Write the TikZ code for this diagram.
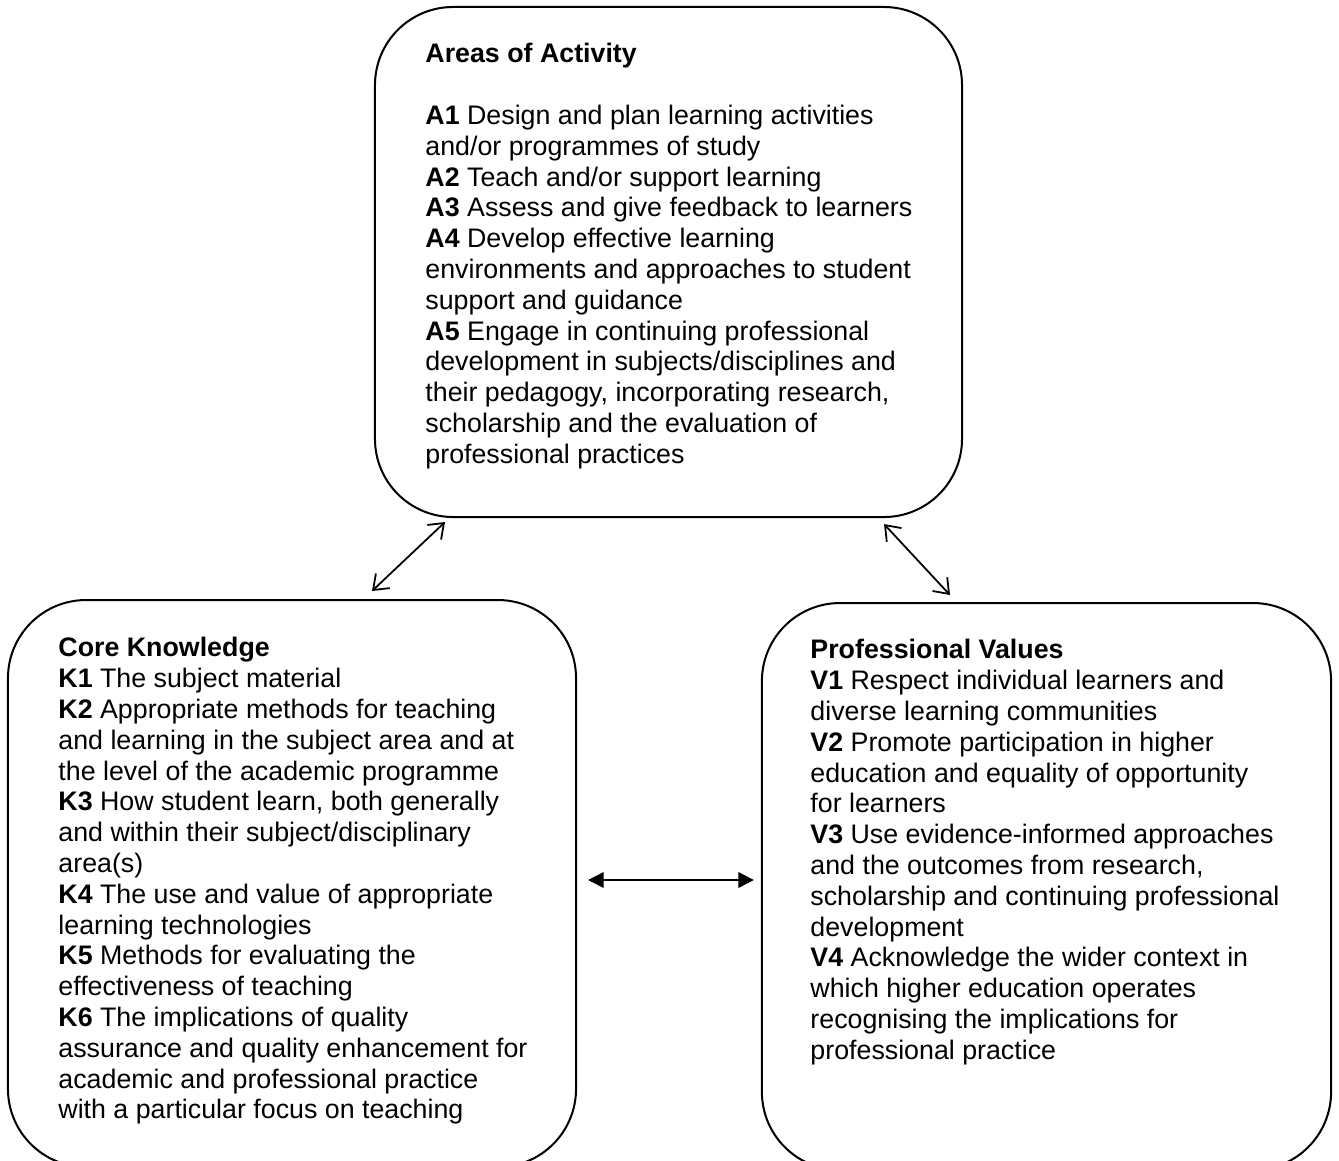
\documentclass[tikz,border=0pt]{standalone}
\usepackage{fontspec}
\setmainfont{Liberation Sans}
\usepackage{tikz}
\usetikzlibrary{arrows.meta, positioning, calc}

\begin{document}
\begin{tikzpicture}[
  x=0.448pt, y=-0.448pt,
  pbox/.style={draw, line width=0.9pt, rounded corners=35pt, inner sep=0pt},
  ptext/.style={anchor=north west, align=left, inner sep=0pt, font=\fontsize{12}{13.8}\selectfont},
  barb/.style={{Straight Barb[length=6pt,width=9pt]}-{Straight Barb[length=6pt,width=9pt]}, line width=0.8pt},
  tri/.style={{Triangle[length=7pt,width=7pt]}-{Triangle[length=7pt,width=7pt]}, line width=0.8pt}
]
  \useasboundingbox (0,0) rectangle (1339,1160);
  \node[pbox, minimum width=263pt, minimum height=228.5pt] (areas) at (668.5,262) {};
  \node[pbox, minimum width=254.5pt, minimum height=254pt] (knowledge) at (292,883.5) {};
  \node[pbox, minimum width=255pt, minimum height=254pt] (values) at (1046.5,886.5) {};
  \node[ptext] (areastxt) at (425,43) {\textbf{Areas of Activity}\\[13.8pt]
    \textbf{A1} Design and plan learning activities\\
    and/or programmes of study\\
    \textbf{A2} Teach and/or support learning\\
    \textbf{A3} Assess and give feedback to learners\\
    \textbf{A4} Develop effective learning\\
    environments and approaches to student\\
    support and guidance\\
    \textbf{A5} Engage in continuing professional\\
    development in subjects/disciplines and\\
    their pedagogy, incorporating research,\\
    scholarship and the evaluation of\\
    professional practices};
  \node[ptext] (knowtxt) at (58,637) {\textbf{Core Knowledge}\\
    \textbf{K1} The subject material\\
    \textbf{K2} Appropriate methods for teaching\\
    and learning in the subject area and at\\
    the level of the academic programme\\
    \textbf{K3} How student learn, both generally\\
    and within their subject/disciplinary\\
    area(s)\\
    \textbf{K4} The use and value of appropriate\\
    learning technologies\\
    \textbf{K5} Methods for evaluating the\\
    effectiveness of teaching\\
    \textbf{K6} The implications of quality\\
    assurance and quality enhancement for\\
    academic and professional practice\\
    with a particular focus on teaching};
  \node[ptext] (valtxt) at (810,639) {\textbf{Professional Values}\\
    \textbf{V1} Respect individual learners and\\
    diverse learning communities\\
    \textbf{V2} Promote participation in higher\\
    education and equality of opportunity\\
    for learners\\
    \textbf{V3} Use evidence-informed approaches\\
    and the outcomes from research,\\
    scholarship and continuing professional\\
    development\\
    \textbf{V4} Acknowledge the wider context in\\
    which higher education operates\\
    recognising the implications for\\
    professional practice};
  \draw[barb] ($(knowledge.north)+(80,-8)$) -- ($(areas.south)+(-223.5,4)$);
  \draw[barb] ($(areas.south)+(215.5,6)$) -- ($(values.north)+(-96.5,-7)$);
  \draw[tri] ($(knowledge.east)+(11,-3.5)$) -- ($(values.west)+(-7,-6.5)$);
\end{tikzpicture}
\end{document}
